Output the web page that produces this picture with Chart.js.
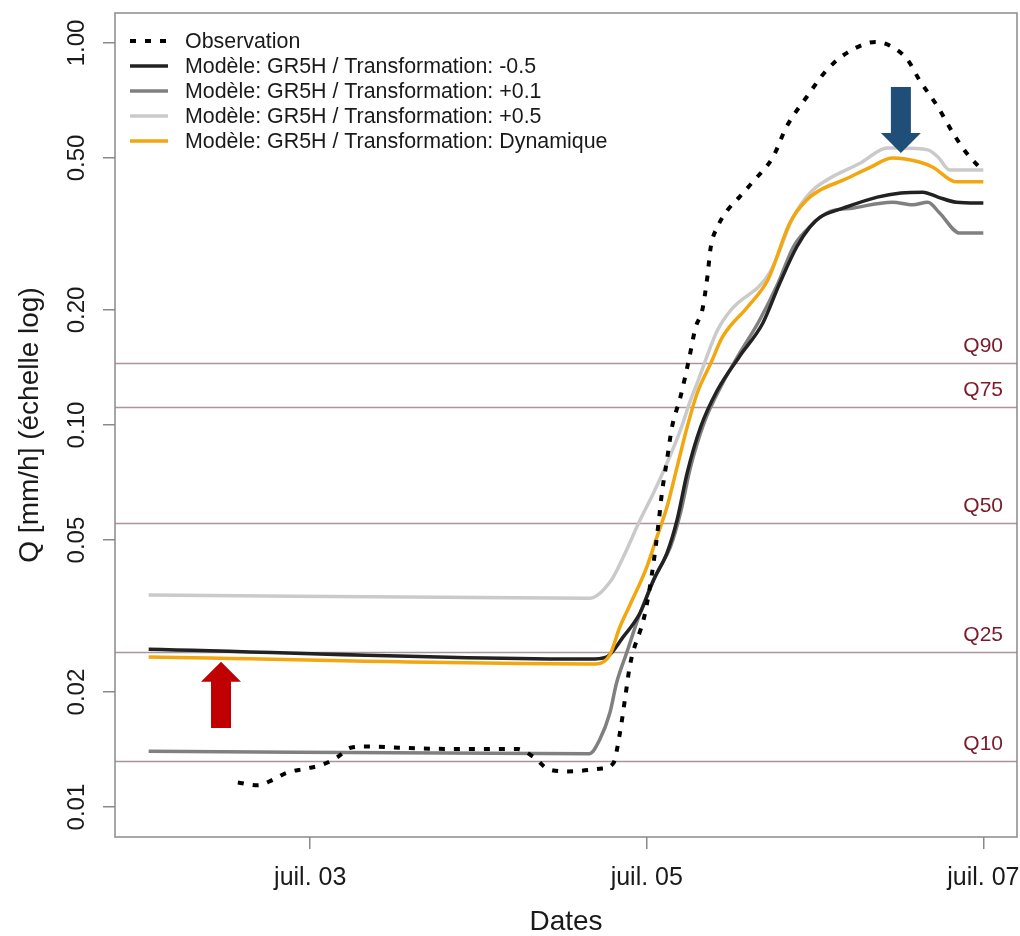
<!DOCTYPE html>
<html lang="fr">
<head>
<meta charset="UTF-8">
<title>Débits observés et simulés · GR5H</title>
<script src="https://cdn.jsdelivr.net/npm/chart.js@4.4.4/dist/chart.umd.min.js"></script>
<style>
  html, body { margin: 0; padding: 0; background: #fff; }
  #wrap { position: relative; width: 1020px; height: 936px; }
</style>
</head>
<body>
<div id="wrap"><canvas id="chart" width="1020" height="936"></canvas></div>
<script>
const FONT = '"Liberation Sans", Arial, sans-serif';
const TEXT_COLOR = '#1a1a1a';

// x values are days of July (3 = juil. 03 00:00), y values are Q in mm/h.
const obsDays = [2.57, 2.69, 2.78, 2.86, 2.97, 3.07, 3.16, 3.24, 3.34, 3.53, 3.83, 4.23, 4.33, 4.41, 4.53, 4.72, 4.80, 4.84, 4.87, 4.90, 4.99, 5.04, 5.07, 5.09, 5.12, 5.15, 5.20, 5.25, 5.29, 5.33, 5.36, 5.38, 5.42, 5.48, 5.55, 5.63, 5.75, 5.83, 5.95, 6.07, 6.19, 6.36, 6.46, 6.55, 6.62, 6.73, 6.82, 6.90, 6.98];
const obsQ = [0.0116, 0.0114, 0.0118, 0.0123, 0.0126, 0.0129, 0.0135, 0.0143, 0.0144, 0.0143, 0.0142, 0.0142, 0.0135, 0.0126, 0.0124, 0.0126, 0.0130, 0.0156, 0.0191, 0.0235, 0.0322, 0.0435, 0.0554, 0.0664, 0.0810, 0.0988, 0.1184, 0.148, 0.180, 0.200, 0.244, 0.292, 0.330, 0.365, 0.395, 0.433, 0.503, 0.603, 0.722, 0.850, 0.942, 1.006, 0.976, 0.903, 0.800, 0.680, 0.581, 0.515, 0.471];

const minus05Days = [2.04, 4.66, 4.76, 4.86, 4.96, 5.04, 5.12, 5.18, 5.24, 5.32, 5.42, 5.55, 5.69, 5.79, 5.89, 5.97, 6.03, 6.17, 6.37, 6.51, 6.64, 6.73, 6.84, 7.00];
const minus05Q = [0.0259, 0.0244, 0.0247, 0.0279, 0.0322, 0.0393, 0.0462, 0.0564, 0.0749, 0.0988, 0.1235, 0.151, 0.185, 0.235, 0.292, 0.330, 0.350, 0.370, 0.395, 0.405, 0.407, 0.395, 0.383, 0.381];

const plus01Days = [2.04, 4.66, 4.72, 4.78, 4.82, 4.88, 4.96, 5.06, 5.14, 5.20, 5.26, 5.34, 5.44, 5.54, 5.67, 5.78, 5.87, 5.95, 6.07, 6.23, 6.46, 6.58, 6.67, 6.74, 6.86, 7.00];
const plus01Q = [0.0140, 0.0138, 0.0150, 0.0176, 0.0211, 0.0253, 0.0322, 0.0410, 0.0479, 0.0588, 0.0776, 0.1012, 0.126, 0.151, 0.188, 0.235, 0.292, 0.324, 0.359, 0.370, 0.383, 0.377, 0.383, 0.359, 0.318, 0.318];

const plus05Days = [2.04, 4.66, 4.79, 4.86, 4.96, 5.04, 5.12, 5.20, 5.26, 5.30, 5.42, 5.50, 5.73, 5.87, 5.97, 6.07, 6.27, 6.43, 6.51, 6.67, 6.73, 6.80, 7.00];
const plus05Q = [0.0359, 0.0352, 0.0393, 0.0451, 0.0564, 0.0664, 0.0795, 0.0970, 0.1162, 0.129, 0.177, 0.200, 0.250, 0.350, 0.405, 0.438, 0.485, 0.531, 0.531, 0.525, 0.503, 0.465, 0.465];

const dynDays = [2.04, 4.66, 4.70, 4.78, 4.84, 4.90, 5.00, 5.06, 5.12, 5.18, 5.24, 5.30, 5.38, 5.45, 5.60, 5.72, 5.85, 5.95, 6.03, 6.17, 6.33, 6.46, 6.62, 6.70, 6.84, 7.00];
const dynQ = [0.0247, 0.0237, 0.0237, 0.0250, 0.0296, 0.0338, 0.0425, 0.0509, 0.0610, 0.0776, 0.0988, 0.1213, 0.145, 0.170, 0.204, 0.240, 0.338, 0.388, 0.412, 0.438, 0.473, 0.500, 0.488, 0.473, 0.433, 0.433];

const Y_TICKS = [0.01, 0.02, 0.05, 0.1, 0.2, 0.5, 1];
const Y_TICK_LABELS = ['0.01', '0.02', '0.05', '0.10', '0.20', '0.50', '1.00'];
const X_TICKS = [3, 5, 7];
const X_TICK_LABELS = ['juil. 03', 'juil. 05', 'juil. 07'];

// Flow quantiles drawn as horizontal reference lines.
const QUANTILE_LABELS = ['Q10', 'Q25', 'Q50', 'Q75', 'Q90'];
const QUANTILE_VALUES = [0.0132, 0.0255, 0.0554, 0.1114, 0.145];

// Annotation arrows: tail and tip in data units.
const ARROWS = [
    { day: 2.47, tail: 0.0161, tip: 0.0240, color: '#c00000' },
    { day: 6.51, tail: 0.767, tip: 0.515, color: '#1f4e79' },
];

const pts = (xs, ys) => xs.map((x, i) => ({ x, y: ys[i] }));

const series = [
    { label: 'Observation', data: pts(obsDays, obsQ), color: '#000000', width: 4, dash: [6, 9], order: 0 },
    { label: 'Modèle: GR5H / Transformation: -0.5', data: pts(minus05Days, minus05Q), color: '#222222', width: 3.5, dash: [], order: 2 },
    { label: 'Modèle: GR5H / Transformation: +0.1', data: pts(plus01Days, plus01Q), color: '#808080', width: 3.5, dash: [], order: 3 },
    { label: 'Modèle: GR5H / Transformation: +0.5', data: pts(plus05Days, plus05Q), color: '#cacaca', width: 3.5, dash: [], order: 4 },
    { label: 'Modèle: GR5H / Transformation: Dynamique', data: pts(dynDays, dynQ), color: '#f2a60f', width: 3.5, dash: [], order: 1 },
];

// Quantile lines go under the curves; box, legend, y labels and arrows on top.
const decorations = {
    id: 'decorations',
    beforeDatasetsDraw(chart) {
        const { ctx, chartArea: a, scales: { y } } = chart;
        ctx.save();
        ctx.strokeStyle = '#ab959c';
        ctx.lineWidth = 1.5;
        ctx.fillStyle = '#7b1a2a';
        ctx.font = `21px ${FONT}`;
        ctx.textAlign = 'right';
        ctx.textBaseline = 'alphabetic';
        QUANTILE_VALUES.forEach((q, i) => {
            const py = Math.round(y.getPixelForValue(q)) + 0.5;
            ctx.beginPath();
            ctx.moveTo(a.left, py);
            ctx.lineTo(a.right, py);
            ctx.stroke();
            ctx.fillText(QUANTILE_LABELS[i], a.right - 14, py - 12);
        });
        ctx.restore();
    },
    afterDraw(chart) {
        const { ctx, chartArea: a, scales: { x, y } } = chart;
        ctx.save();

        // plot box
        ctx.strokeStyle = '#8a8a8a';
        ctx.lineWidth = 1.5;
        ctx.strokeRect(a.left, a.top, a.right - a.left, a.bottom - a.top);

        // rotated y tick labels
        ctx.fillStyle = TEXT_COLOR;
        ctx.font = `24px ${FONT}`;
        ctx.textAlign = 'center';
        ctx.textBaseline = 'middle';
        Y_TICKS.forEach((v, i) => {
            ctx.save();
            ctx.translate(a.left - 38, y.getPixelForValue(v));
            ctx.rotate(-Math.PI / 2);
            ctx.fillText(Y_TICK_LABELS[i], 0, 0);
            ctx.restore();
        });

        // legend
        ctx.font = `21.4px ${FONT}`;
        ctx.textAlign = 'left';
        chart.data.datasets.forEach((ds, i) => {
            const ly = a.top + 28 + i * 25;
            ctx.beginPath();
            ctx.strokeStyle = ds.borderColor;
            ctx.lineWidth = ds.borderWidth;
            ctx.setLineDash(ds.borderDash || []);
            ctx.moveTo(a.left + 15, ly);
            ctx.lineTo(a.left + 53, ly);
            ctx.stroke();
            ctx.setLineDash([]);
            ctx.fillStyle = TEXT_COLOR;
            ctx.fillText(ds.label, a.left + 70, ly + 1);
        });

        // arrows
        ARROWS.forEach((arr) => {
            const cx = x.getPixelForValue(arr.day);
            const tailY = y.getPixelForValue(arr.tail);
            const tipY = y.getPixelForValue(arr.tip);
            const dir = tipY < tailY ? -1 : 1;
            const headLen = 20, shaft = 10, head = 20;
            const baseY = tipY - dir * headLen;
            ctx.fillStyle = arr.color;
            ctx.beginPath();
            ctx.moveTo(cx - shaft, tailY);
            ctx.lineTo(cx - shaft, baseY);
            ctx.lineTo(cx - head, baseY);
            ctx.lineTo(cx, tipY);
            ctx.lineTo(cx + head, baseY);
            ctx.lineTo(cx + shaft, baseY);
            ctx.lineTo(cx + shaft, tailY);
            ctx.closePath();
            ctx.fill();
        });
        ctx.restore();
    },
};

new Chart(document.getElementById('chart'), {
    type: 'line',
    data: {
        datasets: series.map((s) => ({
            label: s.label,
            data: s.data,
            borderColor: s.color,
            backgroundColor: s.color,
            borderWidth: s.width,
            borderDash: s.dash,
            borderCapStyle: 'butt',
            borderJoinStyle: 'round',
            pointRadius: 0,
            cubicInterpolationMode: 'monotone',
            fill: false,
            order: s.order,
        })),
    },
    options: {
        responsive: false,
        animation: false,
        events: [],
        layout: { padding: { left: 0, top: 13, right: 3, bottom: 0 } },
        plugins: { legend: { display: false }, tooltip: { enabled: false } },
        scales: {
            x: {
                type: 'linear',
                min: 1.84,
                max: 7.2,
                afterBuildTicks: (scale) => { scale.ticks = X_TICKS.map((v) => ({ value: v })); },
                afterFit: (scale) => { scale.height = 99; scale.paddingLeft = 0; scale.paddingRight = 0; },
                ticks: {
                    autoSkip: false,
                    maxRotation: 0,
                    padding: 14,
                    color: TEXT_COLOR,
                    font: { family: FONT, size: 25 },
                    callback: (v) => X_TICK_LABELS[X_TICKS.indexOf(v)],
                },
                grid: { drawOnChartArea: false, drawTicks: true, tickLength: 12, color: '#8a8a8a', lineWidth: 1.5 },
                border: { display: false },
                title: { display: true, text: 'Dates', color: TEXT_COLOR, font: { family: FONT, size: 28, lineHeight: 1 }, padding: { top: 0, bottom: 0 } },
            },
            y: {
                type: 'logarithmic',
                min: 0.00835,
                max: 1.198,
                afterBuildTicks: (scale) => { scale.ticks = Y_TICKS.map((v) => ({ value: v, major: true })); },
                afterFit: (scale) => { scale.width = 115; scale.paddingTop = 0; scale.paddingBottom = 0; },
                ticks: { display: false },
                grid: { drawOnChartArea: false, drawTicks: true, tickLength: 12, color: '#8a8a8a', lineWidth: 1.5 },
                border: { display: false },
                title: { display: true, text: 'Q [mm/h] (échelle log)', color: TEXT_COLOR, font: { family: FONT, size: 28, lineHeight: 1 }, padding: { top: 16, bottom: 0 } },
            },
        },
    },
    plugins: [decorations],
});
</script>
</body>
</html>
